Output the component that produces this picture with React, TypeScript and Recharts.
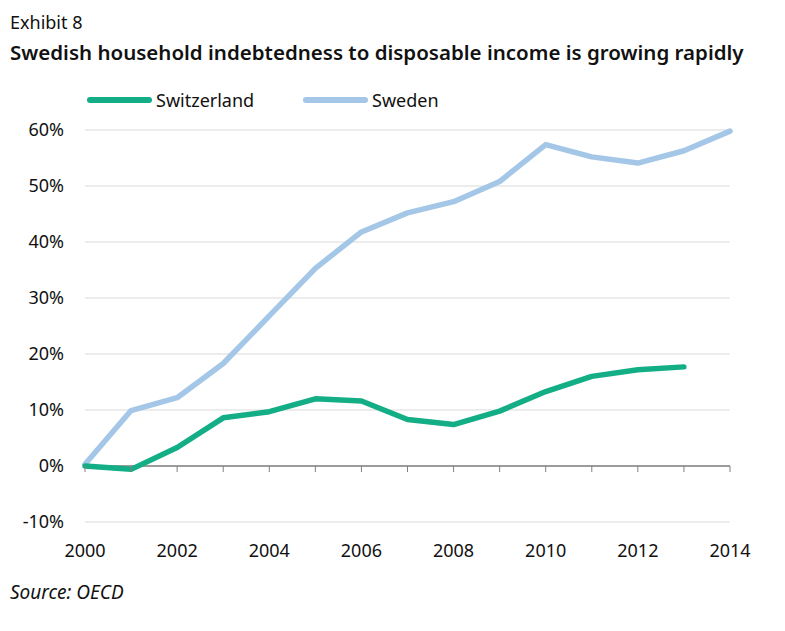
import React from 'react';
import {
    LineChart,
    Line,
    XAxis,
    YAxis,
    CartesianGrid,
    ReferenceLine,
    ReferenceDot,
    Legend
} from 'recharts';

const years = [2000, 2001, 2002, 2003, 2004, 2005, 2006, 2007, 2008, 2009, 2010, 2011, 2012, 2013, 2014];
const switzerland = [0, -0.6, 3.3, 8.6, 9.7, 12.0, 11.6, 8.3, 7.4, 9.8, 13.3, 16.0, 17.2, 17.7, null];
const sweden = [0.3, 9.9, 12.2, 18.3, 26.8, 35.3, 41.8, 45.2, 47.2, 50.8, 57.4, 55.2, 54.1, 56.3, 59.8];
const yTicks = [-10, 0, 10, 20, 30, 40, 50, 60];
const xTicks = [2000, 2002, 2004, 2006, 2008, 2010, 2012, 2014];

const seriesInfo = [
    { key: 'switzerland', name: 'Switzerland', color: '#13ae86' },
    { key: 'sweden', name: 'Sweden', color: '#a4c6e7' },
];

const FONT = '"Noto Sans", "Open Sans", sans-serif';

const chartData = years.map((year, i) => ({
    year,
    switzerland: switzerland[i],
    sweden: sweden[i],
}));

// small tick below the zero line for every year
const YearTick = (props: any) => {
    const { cx, cy } = props;
    return <line x1={cx} y1={cy} x2={cx} y2={cy + 6} stroke="#808080" strokeWidth={1} />;
};

const LegendContent = () => (
    <div style={{ position: 'relative', height: 30 }}>
        {seriesInfo.map((s, i) => (
            <div
                key={s.key}
                style={{
                    position: 'absolute',
                    left: i === 0 ? 87 : 303,
                    top: 0,
                    display: 'flex',
                    alignItems: 'center',
                    fontFamily: FONT,
                    fontSize: 18,
                    color: '#111',
                }}
            >
                <span style={{ display: 'inline-block', width: 65, height: 6, borderRadius: 3, background: s.color, marginRight: 4 }} />
                <span>{s.name}</span>
            </div>
        ))}
    </div>
);

export default function App() {
    return (
        <div style={{ position: 'fixed', left: 0, top: 0, width: 785, height: 631, background: '#fff', fontFamily: FONT }}>
            <div style={{ position: 'absolute', left: 10, top: 10, fontSize: 18, color: '#111', lineHeight: '24px' }}>
                Exhibit 8
            </div>
            <div style={{ position: 'absolute', left: 10, top: 37, fontSize: 20.5, fontWeight: 600, color: '#111', lineHeight: '30px', whiteSpace: 'nowrap' }}>
                Swedish household indebtedness to disposable income is growing rapidly
            </div>
            <div style={{ position: 'absolute', left: 10, top: 580, fontSize: 19, fontStyle: 'italic', color: '#111', lineHeight: '24px' }}>
                Source: OECD
            </div>
            <div style={{ position: 'absolute', left: 0, top: 0 }}>
                <LineChart
                    width={785}
                    height={631}
                    data={chartData}
                    margin={{ top: 100, right: 55, left: 0, bottom: 79 }}
                >
                    <CartesianGrid horizontal={true} vertical={false} stroke="#d9d9d9" strokeWidth={1} />
                    <XAxis
                        dataKey="year"
                        type="number"
                        domain={[2000, 2014]}
                        ticks={xTicks}
                        axisLine={false}
                        tickLine={false}
                        tickSize={0}
                        tickMargin={22}
                        height={30}
                        tick={{ fill: '#111', fontSize: 18, fontFamily: FONT }}
                    />
                    <YAxis
                        domain={[-10, 60]}
                        ticks={yTicks}
                        axisLine={false}
                        tickLine={false}
                        tickSize={0}
                        tickMargin={21}
                        width={85}
                        tickFormatter={(v) => `${v}%`}
                        tick={{ fill: '#111', fontSize: 18, fontFamily: FONT }}
                    />
                    <Legend verticalAlign="top" content={<LegendContent />} wrapperStyle={{ top: 88, left: 0, width: 785 }} />
                    <ReferenceLine y={0} stroke="#808080" strokeWidth={1.5} />
                    {years.map((y) => (
                        <ReferenceDot key={y} x={y} y={0} r={0} shape={<YearTick />} />
                    ))}
                    <Line
                        type="linear"
                        dataKey="sweden"
                        name="Sweden"
                        stroke="#a4c6e7"
                        strokeWidth={5.5}
                        dot={false}
                        activeDot={false}
                        strokeLinecap="round"
                        strokeLinejoin="round"
                        isAnimationActive={false}
                    />
                    <Line
                        type="linear"
                        dataKey="switzerland"
                        name="Switzerland"
                        stroke="#13ae86"
                        strokeWidth={5.5}
                        dot={false}
                        activeDot={false}
                        strokeLinecap="round"
                        strokeLinejoin="round"
                        isAnimationActive={false}
                    />
                </LineChart>
            </div>
        </div>
    );
}
